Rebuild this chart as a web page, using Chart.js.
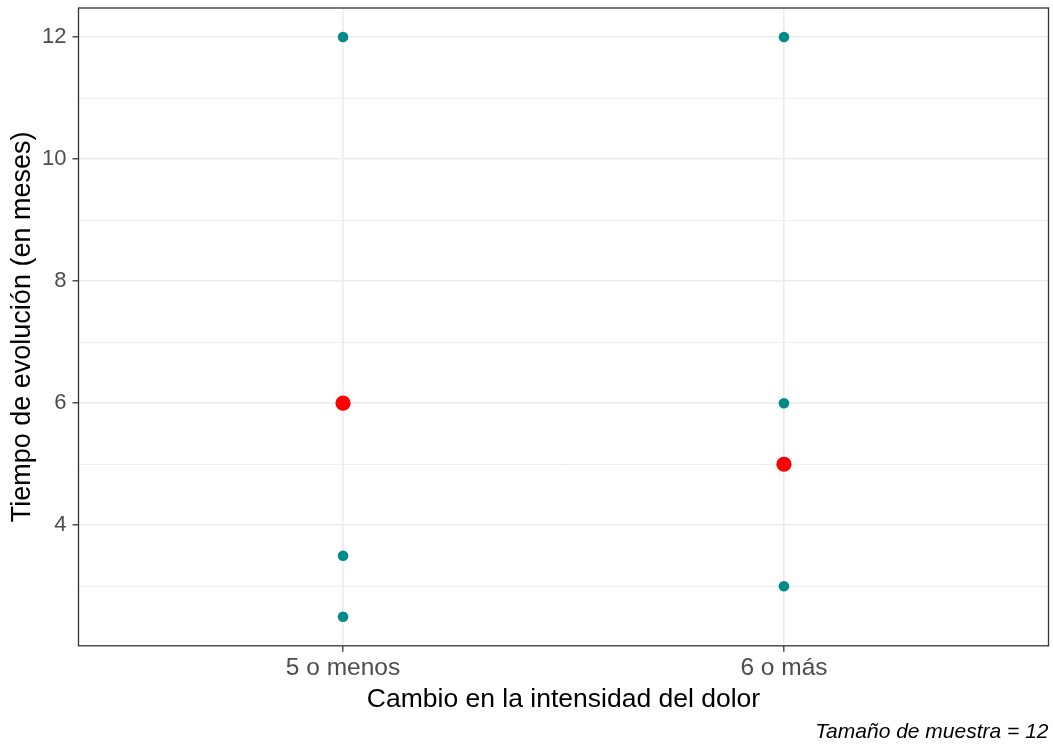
<!DOCTYPE html>
<html>
<head>
<meta charset="utf-8">
<script src="https://cdn.jsdelivr.net/npm/chart.js@4.4.1/dist/chart.umd.min.js"></script>
<style>
  html, body { margin: 0; padding: 0; background: #fff; }
  #wrap { width: 1053px; height: 745px; }
</style>
</head>
<body>
<div id="wrap"><canvas id="chart"></canvas></div>
<script>
// data
const categories = ["5 o menos", "6 o más"];
const obsMenos = [12, 3.5, 2.5];
const obsMas = [12, 6, 3];
const means = [6, 5];
const yTicks = [3, 4, 5, 6, 7, 8, 9, 10, 11, 12];
const yMajor = [4, 6, 8, 10, 12];

const FONT = "'Liberation Sans', Arial, sans-serif";

const toPoints = (vals, idx) => vals.map(v => ({ x: idx + 1, y: v }));
const obsPoints = [...toPoints(obsMenos, 0), ...toPoints(obsMas, 1)];
const meanPoints = means.map((v, i) => ({ x: i + 1, y: v }));

const isMajor = (v) => yMajor.includes(v);

// panel border like theme_bw
const panelBorder = {
  id: "panelBorder",
  afterDatasetsDraw(chart) {
    const { ctx, chartArea: { left, top, right, bottom } } = chart;
    ctx.save();
    ctx.strokeStyle = "#333333";
    ctx.lineWidth = 1.3;
    ctx.strokeRect(left, top, right - left, bottom - top);
    ctx.restore();
  }
};

new Chart(document.getElementById("chart"), {
  type: "scatter",
  data: {
    datasets: [
      {
        label: "obs",
        data: obsPoints,
        backgroundColor: "#008b8b",
        borderWidth: 0,
        pointRadius: 5.3
      },
      {
        label: "media",
        data: meanPoints,
        backgroundColor: "#ff0000",
        borderWidth: 0,
        pointRadius: 7.6
      }
    ]
  },
  options: {
    responsive: true,
    maintainAspectRatio: false,
    animation: false,
    events: [],
    layout: { autoPadding: false, padding: { left: 0, right: 4.5, top: 8, bottom: 0 } },
    plugins: {
      legend: { display: false },
      tooltip: { enabled: false },
      subtitle: {
        display: true,
        position: "bottom",
        align: "end",
        text: "Tamaño de muestra = 12",
        color: "#000000",
        font: { family: FONT, size: 21, style: "italic" },
        padding: { top: 0, bottom: 0 }
      }
    },
    scales: {
      x: {
        type: "linear",
        min: 0.4,
        max: 2.6,
        afterBuildTicks: (scale) => {
          scale.ticks = categories.map((c, i) => ({ value: i + 1 }));
        },
        afterFit: (scale) => {
          scale.height = 74;
          scale.paddingLeft = 0;
          scale.paddingRight = 0;
        },
        ticks: {
          autoSkip: false,
          maxRotation: 0,
          padding: 2,
          color: "#4d4d4d",
          font: { family: FONT, size: 24.5 },
          callback: (v) => categories[v - 1] || ""
        },
        grid: {
          color: "#ebebeb",
          lineWidth: 1.6,
          tickLength: 6,
          tickColor: "#333333",
          tickWidth: 1.3
        },
        border: { display: false },
        title: {
          display: true,
          text: "Cambio en la intensidad del dolor",
          color: "#000000",
          font: { family: FONT, size: 26.5 },
          padding: { top: 0, bottom: 4 }
        }
      },
      y: {
        type: "linear",
        min: 2.025,
        max: 12.475,
        afterBuildTicks: (scale) => {
          scale.ticks = yTicks.map(v => ({ value: v }));
        },
        afterFit: (scale) => {
          scale.width = 78.5;
          scale.paddingTop = 0;
          scale.paddingBottom = 0;
        },
        ticks: {
          autoSkip: false,
          padding: 6,
          color: "#4d4d4d",
          font: { family: FONT, size: 22 },
          callback: (v) => isMajor(v) ? String(v) : ""
        },
        grid: {
          color: "#ebebeb",
          lineWidth: (ctx) => isMajor(ctx.tick.value) ? 1.6 : 0.8,
          tickLength: 6,
          tickColor: (ctx) => isMajor(ctx.tick.value) ? "#333333" : "rgba(0,0,0,0)",
          tickWidth: 1.3
        },
        border: { display: false },
        title: {
          display: true,
          text: "Tiempo de evolución (en meses)",
          color: "#000000",
          font: { family: FONT, size: 27 },
          padding: { top: 6, bottom: 0 }
        }
      }
    }
  },
  plugins: [panelBorder]
});
</script>
</body>
</html>
